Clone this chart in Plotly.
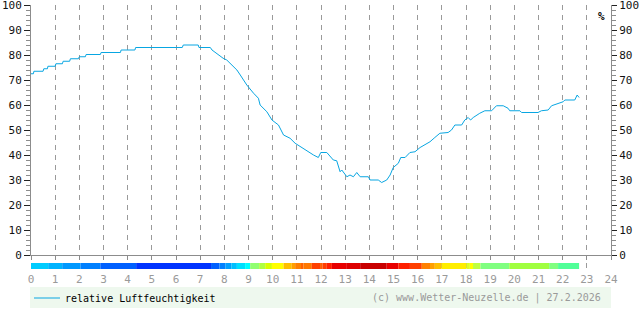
import plotly.graph_objects as go

# ---- humidity series (hour of day, % relative humidity) ----
hours = [0.0, 0.1, 0.12, 0.5, 0.53, 0.68, 0.7, 1.0, 1.03, 1.3, 1.33, 1.6, 1.63, 1.96, 2.0, 2.25,
         2.28, 2.87, 2.9, 3.7, 3.73, 4.3, 4.33, 6.26, 6.3, 6.92, 6.95, 7.42, 7.49, 7.75, 7.95,
         8.1, 8.31, 8.52, 8.66, 8.93, 9.21, 9.41, 9.48, 9.76, 9.97, 10.24, 10.45, 10.72, 10.93,
         11.14, 11.34, 11.69, 11.89, 11.99, 12.24, 12.38, 12.51, 12.65, 12.79, 12.86, 13.07,
         13.2, 13.34, 13.48, 13.62, 13.96, 14.03, 14.37, 14.51, 14.72, 14.86, 14.99, 15.2, 15.3,
         15.48, 15.68, 15.89, 16.1, 16.3, 16.51, 16.71, 16.92, 17.26, 17.4, 17.54, 17.82, 17.95,
         18.09, 18.19, 18.3, 18.57, 18.78, 19.06, 19.26, 19.54, 19.74, 19.81, 20.23, 20.3, 20.98,
         21.12, 21.4, 21.54, 21.81, 22.02, 22.09, 22.5, 22.6, 22.68]
humidity = [72.5, 72.5, 73.5, 73.5, 74.5, 74.5, 75.5, 75.5, 76.5, 76.5, 77.5, 77.5, 78.5, 78.5,
            79.3, 79.3, 80.2, 80.2, 81, 81, 82, 82, 83, 83, 84, 84, 83, 83, 82, 80, 78.7,
            78, 76, 74, 72, 68, 64.7, 62.7, 60, 57.3, 54, 52, 48, 46.7, 44.7,
            43.3, 42, 40, 39, 41, 41, 39.3, 38, 37.7, 33.3, 34, 31.3,
            32, 31.3, 33, 31.3, 31.3, 30, 30, 29, 30, 32, 35, 36.7, 39,
            39, 41, 41.3, 43, 44, 45.3, 47, 48.7, 49, 50, 52, 52, 54,
            55, 54, 55, 56.7, 57.7, 57.7, 59.7, 59.7, 58.7, 57.7, 57.7, 57, 57,
            57.7, 58, 59.7, 60.7, 61.3, 62, 62, 64, 63]

# ---- colour strip segments (hour boundaries and colours) ----
strip_bounds = [0, 0.71, 1.29, 2.05, 2.87, 4.35, 7.45, 7.8, 8.04, 8.29, 8.52, 8.86, 9.07, 9.44,
                9.69, 9.97, 10.45, 10.79, 10.93, 11.21, 11.27, 11.62, 11.96, 12.06, 12.24, 12.45,
                13.07, 13.62, 14.72, 15.2, 15.68, 16.17, 16.51, 16.71, 16.99, 18.02, 18.16, 18.29,
                18.6, 19.79, 21.44, 21.81, 22.68]
strip_colors = ["#00ccff", "#00b4ff", "#0099ff", "#0080ff", "#0060ff", "#0033ff", "#0060ff",
                "#0080ff", "#00a0ff", "#00c0ff", "#00e0ff", "#00ffff", "#90ff70", "#b0ff40",
                "#d8ff00", "#ffff00", "#ffc000", "#ffa000", "#ff8000", "#ff6000", "#ff7800",
                "#ff4000", "#ff6000", "#ff4000", "#ff2000", "#e80000", "#dd0000", "#c80000",
                "#e80000", "#ff2000", "#ff4000", "#ff8000", "#ffa000", "#ffc000", "#ffee00",
                "#e0ff20", "#ffff00", "#c0ff40", "#80ff80", "#a0ff40", "#80ff80", "#50ff98"]

x_ticks = list(range(0, 25))
y_ticks = list(range(0, 101, 10))

series_name = "relative Luftfeuchtigkeit"
credit = "(c) www.Wetter-Neuzelle.de | 27.2.2026"

W, H = 640, 315
ml, mr, mt, mb = 31, 29, 5, 46
pw = W - ml - mr  # 580
ph = H - mt - mb  # 264
main_bottom = 14 / ph
strip_top = 6 / ph

def py(pix):
    return -(pix - (H - mb)) / ph

def px(pix):
    return (pix - ml) / pw

mids = [(a + b) / 2 for a, b in zip(strip_bounds[:-1], strip_bounds[1:])]
widths = [b - a for a, b in zip(strip_bounds[:-1], strip_bounds[1:])]

line_col = "#08a6e2"

fig = go.Figure()
fig.add_trace(go.Bar(x=mids, y=[1] * len(mids), width=widths, base=0,
                     marker=dict(color=strip_colors, line=dict(width=0)),
                     xaxis="x", yaxis="y2", showlegend=False, hoverinfo="skip"))
fig.add_trace(go.Scatter(x=hours, y=humidity, mode="lines", name=series_name,
                         line=dict(color=line_col, width=1), xaxis="x", yaxis="y",
                         showlegend=False))
# invisible trace so the right axis is drawn
fig.add_trace(go.Scatter(x=[0], y=[0], yaxis="y3", mode="markers", marker=dict(opacity=0),
                         showlegend=False, hoverinfo="skip"))

mono = "DejaVu Sans Mono"
axis_col = "#8c8c8c"

fig.update_layout(
    width=W, height=H,
    margin=dict(l=ml, r=mr, t=mt, b=mb, autoexpand=False),
    paper_bgcolor="white", plot_bgcolor="white",
    barmode="overlay",
    xaxis=dict(range=[0, 24], tickvals=x_ticks, ticktext=[str(t) for t in x_ticks],
               anchor="y", showline=True, linecolor=axis_col, linewidth=1,
               ticks="outside", ticklen=4, tickcolor=axis_col, automargin=False,
               showgrid=True, gridcolor="#9a9a9a", griddash="5px,5px", gridwidth=1,
               zeroline=False, ticklabelstandoff=10, ticklabeloverflow="allow",
               tickfont=dict(family=mono, size=11, color="#9a9a9a")),
    yaxis=dict(domain=[main_bottom, 1], range=[0, 100], tickvals=y_ticks,
               showline=True, linecolor=axis_col, linewidth=1, automargin=False,
               ticks="outside", ticklen=6, tickcolor="#222", ticklabeloverflow="allow",
               minor=dict(dtick=2, ticks="outside", ticklen=4, tickcolor=axis_col, showgrid=False),
               showgrid=False, zeroline=False,
               tickfont=dict(family=mono, size=11, color="#111")),
    yaxis3=dict(overlaying="y", side="right", anchor="x", range=[0, 100], tickvals=y_ticks,
                showline=True, linecolor=axis_col, linewidth=1, automargin=False,
                ticks="outside", ticklen=5, tickcolor="#222", ticklabeloverflow="allow",
                minor=dict(dtick=2, ticks="outside", ticklen=4, tickcolor=axis_col, showgrid=False),
                showgrid=False, zeroline=False,
                tickfont=dict(family=mono, size=11, color="#111")),
    yaxis2=dict(domain=[0, strip_top], range=[0, 1], visible=False, fixedrange=True),
    showlegend=False,
    shapes=[
        dict(type="rect", xref="paper", yref="paper", x0=px(30), x1=1.0,
             y0=py(308), y1=py(287), fillcolor="#eef8ee", line=dict(width=0), layer="below"),
        dict(type="line", xref="paper", yref="paper", x0=px(34), x1=px(60),
             y0=py(298), y1=py(298), line=dict(color=line_col, width=1)),
    ],
    annotations=[
        dict(text="%", xref="paper", yref="paper", x=px(601.5), y=py(16.5),
             xanchor="center", yanchor="middle", showarrow=False,
             font=dict(family=mono, size=11, color="#000", weight="bold")),
        dict(text=series_name, xref="paper", yref="paper", x=px(63), y=py(298),
             xanchor="left", yanchor="middle", showarrow=False,
             font=dict(family=mono, size=10, color="#000")),
        dict(text=credit, xref="paper", yref="paper", x=px(603), y=py(298),
             xanchor="right", yanchor="middle", showarrow=False,
             font=dict(family=mono, size=10, color="#9a9a9a")),
    ],
)

fig.write_html("out.html")
